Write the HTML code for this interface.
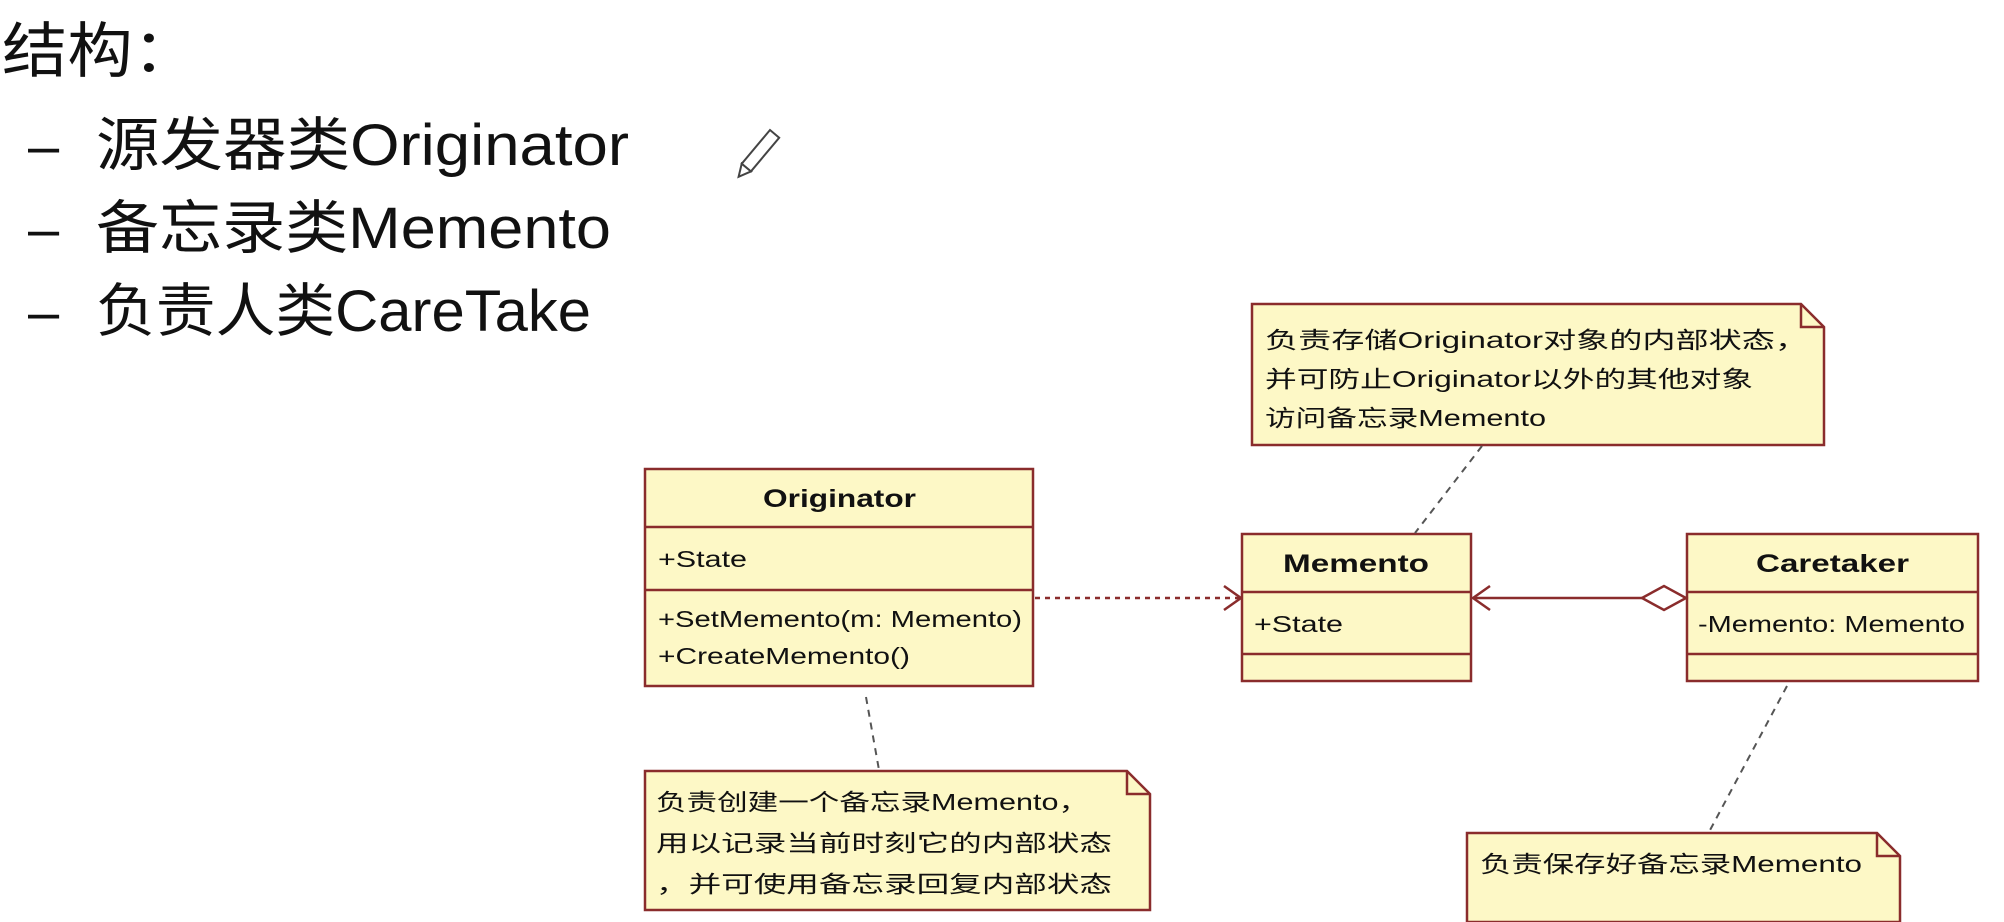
<!DOCTYPE html>
<html><head><meta charset="utf-8"><style>
html,body{margin:0;padding:0;background:#fff;width:2004px;height:922px;overflow:hidden}
svg{display:block}
.t{font-family:"Liberation Sans","Noto Sans CJK SC",sans-serif;fill:#111}
</style></head><body>
<svg width="2004" height="922" viewBox="0 0 2004 922" xmlns="http://www.w3.org/2000/svg">
<g class="t">
<text x="2" y="72" font-size="60" textLength="196" lengthAdjust="spacingAndGlyphs">结构：</text>
<text x="28" y="165" font-size="56">–</text>
<text x="96" y="165" font-size="58" textLength="533" lengthAdjust="spacingAndGlyphs">源发器类Originator</text>
<text x="28" y="248" font-size="56">–</text>
<text x="96" y="248" font-size="58" textLength="515" lengthAdjust="spacingAndGlyphs">备忘录类Memento</text>
<text x="28" y="331" font-size="56">–</text>
<text x="96" y="331" font-size="58" textLength="495" lengthAdjust="spacingAndGlyphs">负责人类CareTake</text>
</g>
<g transform="translate(770,130) rotate(40)">
<rect x="0" y="0" width="12" height="44" fill="#fff" stroke="#444" stroke-width="2"/>
<polygon points="0,44 12,44 6,56" fill="#fff" stroke="#444" stroke-width="2"/>
</g>
<g fill="#fdf8c6" stroke="#8a2c2c" stroke-width="2.5">
<rect x="645" y="469" width="388" height="217"/>
<line x1="645" y1="527" x2="1033" y2="527"/>
<line x1="645" y1="590" x2="1033" y2="590"/>
<rect x="1242" y="534" width="229" height="147"/>
<line x1="1242" y1="592" x2="1471" y2="592"/>
<line x1="1242" y1="654" x2="1471" y2="654"/>
<rect x="1687" y="534" width="291" height="147"/>
<line x1="1687" y1="592" x2="1978" y2="592"/>
<line x1="1687" y1="654" x2="1978" y2="654"/>
<path d="M1252 304 H1801 L1824 327 V445 H1252 Z"/>
<path d="M1801 304 V327 H1824" fill="none"/>
<path d="M645 771 H1127 L1150 794 V910 H645 Z"/>
<path d="M1127 771 V794 H1150" fill="none"/>
<path d="M1467 833 H1877 L1900 856 V922 H1467 Z"/>
<path d="M1877 833 V856 H1900" fill="none"/>
</g>
<g stroke="#555" stroke-width="2" stroke-dasharray="7,6" fill="none">
<line x1="1482" y1="446" x2="1415" y2="533"/>
<line x1="866" y1="697" x2="879" y2="770"/>
<line x1="1787" y1="686" x2="1709" y2="832"/>
</g>
<g stroke="#8a2c2c" stroke-width="2.5" fill="none">
<line x1="1035" y1="598" x2="1240" y2="598" stroke-dasharray="5,5"/>
<polyline points="1224,586 1241,598 1224,610"/>
<line x1="1473" y1="598" x2="1642" y2="598"/>
<polyline points="1490,586 1473,598 1490,610"/>
<polygon points="1642,598 1664,586 1686,598 1664,610" fill="#fff"/>
</g>
<g class="t" font-size="23" lengthAdjust="spacingAndGlyphs">
<text x="763" y="507" font-weight="bold" font-size="25" textLength="153" lengthAdjust="spacingAndGlyphs">Originator</text>
<text x="658" y="567" textLength="89" lengthAdjust="spacingAndGlyphs">+State</text>
<text x="658" y="627" textLength="364" lengthAdjust="spacingAndGlyphs">+SetMemento(m: Memento)</text>
<text x="658" y="664" textLength="252" lengthAdjust="spacingAndGlyphs">+CreateMemento()</text>
<text x="1283" y="572" font-weight="bold" font-size="25" textLength="146" lengthAdjust="spacingAndGlyphs">Memento</text>
<text x="1254" y="632" textLength="89" lengthAdjust="spacingAndGlyphs">+State</text>
<text x="1756" y="572" font-weight="bold" font-size="25" textLength="153" lengthAdjust="spacingAndGlyphs">Caretaker</text>
<text x="1698" y="632" textLength="267" lengthAdjust="spacingAndGlyphs">-Memento: Memento</text>
<text x="1265" y="348" textLength="543" lengthAdjust="spacingAndGlyphs">负责存储Originator对象的内部状态，</text>
<text x="1265" y="387" textLength="488" lengthAdjust="spacingAndGlyphs">并可防止Originator以外的其他对象</text>
<text x="1265" y="426" textLength="281" lengthAdjust="spacingAndGlyphs">访问备忘录Memento</text>
<text x="656" y="810" textLength="433" lengthAdjust="spacingAndGlyphs">负责创建一个备忘录Memento，</text>
<text x="656" y="851" textLength="456" lengthAdjust="spacingAndGlyphs">用以记录当前时刻它的内部状态</text>
<text x="656" y="892" textLength="456" lengthAdjust="spacingAndGlyphs">，并可使用备忘录回复内部状态</text>
<text x="1480" y="872" textLength="382" lengthAdjust="spacingAndGlyphs">负责保存好备忘录Memento</text>
</g>
</svg>
</body></html>
